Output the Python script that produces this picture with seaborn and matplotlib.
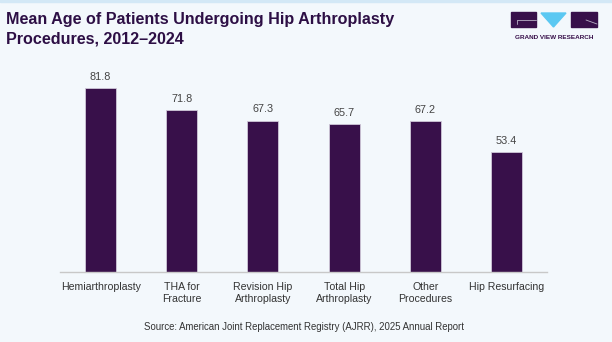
import matplotlib
matplotlib.use("Agg")
import matplotlib.pyplot as plt
import matplotlib.patches as mpatches
import seaborn as sns
import pandas as pd

categories = ["Hemiarthroplasty", "THA for\nFracture", "Revision Hip\nArthroplasty",
              "Total Hip\nArthroplasty", "Other\nProcedures", "Hip Resurfacing"]
mean_age = [81.8, 71.8, 67.3, 65.7, 67.2, 53.4]
title = "Mean Age of Patients Undergoing Hip Arthroplasty\nProcedures, 2012\u20132024"
source = "Source: American Joint Replacement Registry (AJRR), 2025 Annual Report"

sns.set_theme(style="white")
plt.rcParams['font.family'] = ['Liberation Sans', 'DejaVu Sans']

BG = "#f3f8fc"
BAR = "#38104a"
W, H = 612, 342

fig = plt.figure(figsize=(6.12, 3.42), dpi=100, facecolor=BG)
ax = fig.add_axes([60 / W, (H - 272) / H, (547 - 60) / W, (272 - 60.5) / H])
ax.set_facecolor(BG)

df = pd.DataFrame({"cat": categories, "age": mean_age})
sns.barplot(data=df, x="cat", y="age", color=BAR, width=0.38, ax=ax,
            edgecolor="#cfc8d8", linewidth=0.6, saturation=1)
ax.set_xlim(-0.5, 5.5)
ax.set_ylim(0, 94)
ax.set_xlabel("")
ax.set_ylabel("")
ax.set_yticks([])
for s in ["top", "right", "left"]:
    ax.spines[s].set_visible(False)
ax.spines["bottom"].set_color("#c8c8c8")
ax.spines["bottom"].set_linewidth(1.0)
ax.tick_params(axis="x", length=0, pad=7, labelsize=7.6, colors="#333333")
for lbl in ax.get_xticklabels():
    lbl.set_linespacing(1.25)

for i, v in enumerate(mean_age):
    ax.annotate(f"{v:.1f}", (i, v), xytext=(0, 4.5), textcoords="offset points",
                ha="center", va="bottom", fontsize=7.8, color="#444444")

# title
fig.text(6 / W, 1 - 12 / H, title, ha="left", va="top", fontsize=11.6,
         fontweight="bold", color="#2d0f45", linespacing=1.38,
         family=['Liberation Sans Narrow', 'Liberation Sans', 'DejaVu Sans'])

# source
fig.text(304 / W, 1 - 327 / H, source, ha="center", va="center",
         fontsize=6.9, color="#333333")

# top border
fig.patches.append(mpatches.Rectangle((0, 1 - 2 / H), 1, 2 / H, transform=fig.transFigure,
                                      color="#d3e8f6", zorder=0))

# logo
def fx(x):
    return x / W

def fy(y):
    return 1 - y / H

fig.patches.append(mpatches.Rectangle((fx(511), fy(27)), fx(25), 15 / H,
                                      transform=fig.transFigure, color="#38104a"))
fig.patches.append(mpatches.Polygon([(fx(541), fy(13)), (fx(566), fy(13)), (fx(553.5), fy(27))],
                                    closed=True, transform=fig.transFigure, color="#5bc8f2"))
fig.patches.append(mpatches.Rectangle((fx(571), fy(27)), fx(26), 15 / H,
                                      transform=fig.transFigure, color="#38104a"))
fig.lines.append(plt.Line2D([fx(517), fx(536)], [fy(20), fy(20)], transform=fig.transFigure,
                            color="#b9b0c6", linewidth=0.6))
fig.lines.append(plt.Line2D([fx(517), fx(517)], [fy(20), fy(24)], transform=fig.transFigure,
                            color="#b9b0c6", linewidth=0.6))
fig.lines.append(plt.Line2D([fx(586), fx(597)], [fy(20), fy(24)], transform=fig.transFigure,
                            color="#b9b0c6", linewidth=0.6))
fig.text(fx(554), fy(37.5), "GRAND VIEW RESEARCH", ha="center", va="center",
         fontsize=4.6, fontweight="bold", color="#38104a")

fig.savefig("out.png", dpi=100, facecolor=BG)
